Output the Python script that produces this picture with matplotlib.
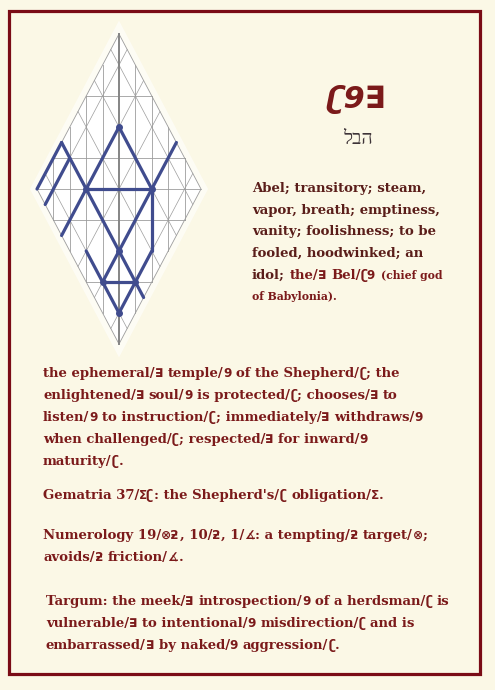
import re
import matplotlib
matplotlib.use("Agg")
import matplotlib.pyplot as plt
from matplotlib.patches import Rectangle, Polygon

# colours
BG = "#fbf8e6"
BORDER = "#7a0c16"
RED = "#7b1a1a"
DARK = "#5a1e1a"
BLUE = "#404c8e"
GRID = "#9c9c9c"

SERIF = "DejaVu Serif"
SANS = "DejaVu Sans"

# paleo-hebrew look-alikes for the hebrew letters
GLYPH = {"ה": "∃", "ב": "9", "ל": "ʗ", "ז": "Σ", "ט": "⊗", "י": "ƻ", "א": "∡"}

word = "הבל"

abel_lines = [
    [("Abel; transitory; steam,", "dark")],
    [("vapor, breath; emptiness,", "dark")],
    [("vanity; foolishness; to be", "dark")],
    [("fooled, hoodwinked; an", "dark")],
    [("idol;", "dark"), ("the/ה Bel/בל", "red"), ("(chief god", "note")],
    [("of Babylonia).", "note")],
]

body_lines = [
    "the ephemeral/ה temple/ב of the Shepherd/ל; the",
    "enlightened/ה soul/ב is protected/ל; chooses/ה to",
    "listen/ב to instruction/ל; immediately/ה withdraws/ב",
    "when challenged/ל; respected/ה for inward/ב",
    "maturity/ל.",
]
gematria_lines = ["Gematria 37/לז: the Shepherd's/ל obligation/ז."]
numerology_lines = [
    "Numerology 19/יט, 10/י, 1/א: a tempting/י target/ט;",
    "avoids/י friction/א.",
]
targum_lines = [
    "Targum: the meek/ה introspection/ב of a herdsman/ל is",
    "vulnerable/ה to intentional/ב misdirection/ל and is",
    "embarrassed/ה by naked/ב aggression/ל.",
]

# lattice drawing (u across, v down, diamond |u|+|v| <= 5)
blue_segments = [
    ((0, -2), (-2, 0)), ((0, -2), (2, 0)), ((-2, 0), (2, 0)),
    ((-2, 0), (0, 2)), ((2, 0), (-1, 3)), ((2, 0), (2, 2)),
    ((2, 2), (0, 4)), ((-2, 2), (0, 4)), ((-1, 3), (1, 3)),
    ((0, 2), (1.5, 3.5)), ((2, 0), (3.5, -1.5)), ((-2, 0), (-3.5, -1.5)),
    ((-3.5, -1.5), (-5, 0)), ((-3, -1), (-4.5, 0.5)), ((-2, 0), (-3.5, 1.5)),
]
blue_nodes = [(0, -2), (-2, 0), (2, 0), (0, 2), (-1, 3), (1, 3), (0, 4)]
grid_columns = [-4, -3, -2, -1, 1, 2, 3, 4]
grid_rows = [-3, -1, 0, 1, 3]
grid_diagonals = [-4, -2, 0, 2, 4]


def paleo(s):
    return "".join(GLYPH[c] for c in reversed(s))


fig = plt.figure(figsize=(4.95, 6.90), dpi=100, facecolor=BG)
page = fig.add_axes([0, 0, 1, 1])
page.set_xlim(0, 495)
page.set_ylim(690, 0)
page.axis("off")
page.add_patch(Rectangle((9, 11), 471, 663, fill=False, ec=BORDER, lw=2.3))

# ---- diamond
ax = fig.add_axes([37 / 495, 1 - 344 / 690, 164 / 495, 310 / 690])
ax.set_xlim(-5, 5)
ax.set_ylim(5, -5)
ax.axis("off")
edge = [(0, -5), (5, 0), (0, 5), (-5, 0)]
ax.add_patch(Polygon(edge, closed=True, fc="white", ec="white", lw=9, alpha=0.6, clip_on=False))
ax.add_patch(Polygon(edge, closed=True, fc="white", ec="none", clip_on=False))

for u in grid_columns:
    h = 5 - abs(u)
    ax.plot([u, u], [-h, h], color=GRID, lw=0.6, clip_on=False)
for v in grid_rows:
    w = 5 - abs(v)
    ax.plot([-w, w], [v, v], color=GRID, lw=0.6, clip_on=False)
for k in grid_diagonals:
    ax.plot([(k + 5) / 2, (k - 5) / 2], [(k - 5) / 2, (k + 5) / 2], color=GRID, lw=0.5, clip_on=False)
    ax.plot([(k + 5) / 2, (k - 5) / 2], [(5 - k) / 2, (-5 - k) / 2], color=GRID, lw=0.5, clip_on=False)
ax.add_patch(Polygon(edge, closed=True, fill=False, ec=GRID, lw=0.6, clip_on=False))
ax.plot([0, 0], [-5, 5], color="#858585", lw=1.4, clip_on=False)

for a, b in blue_segments:
    ax.plot([a[0], b[0]], [a[1], b[1]], color=BLUE, lw=2.3,
            solid_capstyle="round", clip_on=False)
ax.plot([p[0] for p in blue_nodes], [p[1] for p in blue_nodes], "o",
        color=BLUE, ms=4, clip_on=False)

# ---- title
page.text(357, 108, paleo(word), family=SANS, weight="bold", style="italic",
          size=22, color=RED, ha="center", va="baseline")
page.text(358, 144, word[::-1], family=["Liberation Serif", SANS],
          size=14, color="#3e3438", ha="center", va="baseline")

# ---- text
renderer = fig.canvas.get_renderer()
STYLES = {
    "dark": dict(color=DARK, size=9.5),
    "red": dict(color=RED, size=9.5),
    "note": dict(color=RED, size=7.8),
}


def advance(s, size, family):
    a = page.text(0, 0, "|" + s + "|", family=family, weight="bold", size=size)
    b = page.text(0, 0, "||", family=family, weight="bold", size=size)
    w = a.get_window_extent(renderer).width - b.get_window_extent(renderer).width
    a.remove()
    b.remove()
    return w


def write(x, y, runs):
    for s, style in runs:
        color, size = STYLES[style]["color"], STYLES[style]["size"]
        for piece in re.split(r"([\u0590-\u05FF]+)", s):
            if not piece:
                continue
            if re.match(r"[\u0590-\u05FF]", piece):
                fam, txt, sz = SANS, paleo(piece), size * 0.92
            else:
                fam, txt, sz = SERIF, piece, size
            lead = txt[:len(txt) - len(txt.lstrip())]
            x0 = x + (advance(lead, sz, fam) if lead else 0)
            if txt.strip():
                page.text(x0, y, txt.strip(), family=fam, weight="bold", size=sz,
                          color=color, va="baseline")
            x += advance(txt, sz, fam)
        x += advance(" ", size, SERIF)


for i, runs in enumerate(abel_lines):
    write(252, 192 + i * 21.7, runs)

blocks = [(body_lines, 43, 377), (gematria_lines, 43, 499),
          (numerology_lines, 43, 539), (targum_lines, 46, 605)]
for lines, x0, y0 in blocks:
    for i, line in enumerate(lines):
        write(x0, y0 + i * 22, [(line, "red")])

fig.savefig("out.png", dpi=100, facecolor=BG)
